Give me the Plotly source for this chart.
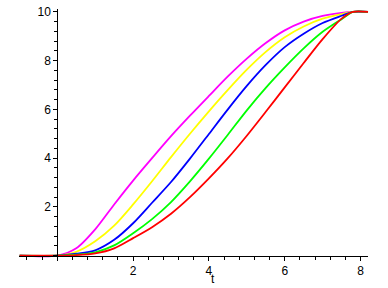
import plotly.graph_objects as go

# sample times (shared by all curves)
t = [-1, 0, 0.5, 1, 1.5, 2, 2.5, 3, 3.5, 4, 4.5, 5, 5.5, 6, 6.5, 7, 7.5, 7.8, 8.2]

magenta = [0, 0, 0.30, 1.08, 2.10, 3.08, 4.00, 4.90, 5.74, 6.55, 7.35, 8.08, 8.72, 9.24, 9.60, 9.83, 9.96, 10, 10]
yellow = [0, 0, 0.16, 0.59, 1.23, 2.10, 3.05, 4.04, 5.00, 5.92, 6.80, 7.63, 8.36, 8.96, 9.40, 9.72, 9.91, 10, 10]
blue = [0, 0, 0.08, 0.22, 0.65, 1.33, 2.17, 3.02, 3.98, 4.99, 6.00, 6.96, 7.82, 8.55, 9.10, 9.54, 9.84, 10, 10]
green = [0, 0, 0.04, 0.14, 0.42, 0.92, 1.50, 2.20, 3.05, 3.98, 4.96, 5.96, 6.88, 7.72, 8.50, 9.18, 9.70, 10, 10]
red = [0, 0, 0.02, 0.09, 0.30, 0.72, 1.17, 1.72, 2.40, 3.17, 4.00, 4.92, 5.90, 6.90, 7.90, 8.88, 9.72, 10, 10]

series = [("#FF00FF", magenta), ("#FFFF00", yellow), ("#0000FF", blue),
          ("#00FF00", green), ("#FF0000", red)]

x_label = "t"

W, H = 388, 288
fig = go.Figure()
for color, ys in series:
    fig.add_trace(go.Scatter(x=t, y=ys, mode="lines",
                             line=dict(color=color, width=1.8, shape="spline", smoothing=0.8),
                             showlegend=False, hoverinfo="skip"))

font = dict(family="Liberation Sans, Arial, sans-serif", size=12, color="black")

fig.update_layout(
    width=W, height=H,
    margin=dict(l=0, r=0, t=0, b=0),
    paper_bgcolor="white", plot_bgcolor="white",
    font=font,
    xaxis=dict(range=[-1, 8.2], domain=[19.4 / W, 368.1 / W],
               anchor="free", position=(H - 257) / H,
               showline=True, linecolor="black", linewidth=1,
               showgrid=False, zeroline=False,
               tickmode="linear", tick0=0, dtick=2, labelalias={"0": " "},
               ticks="outside", ticklen=4, tickcolor="black", tickfont=font,
               minor=dict(tickmode="linear", dtick=0.4, tick0=0, ticks="outside", ticklen=3,
                          tickcolor="black", showgrid=False)),
    yaxis=dict(range=[-0.2, 10.12], domain=[(H - 262) / H, (H - 5) / H],
               anchor="free", position=57.3 / W,
               showline=True, linecolor="black", linewidth=1,
               showgrid=False, zeroline=False,
               tickmode="linear", tick0=0, dtick=2, labelalias={"0": " "},
               ticks="outside", ticklen=4, tickcolor="black", tickfont=font,
               minor=dict(tickmode="linear", dtick=0.4, tick0=0, ticks="outside", ticklen=3,
                          tickcolor="black", showgrid=False)),
    annotations=[dict(text=x_label, x=4.1, xref="x", y=7 / H, yref="paper",
                      showarrow=False, font=font, xanchor="center", yanchor="middle")],
)

fig.write_html("out.html")
